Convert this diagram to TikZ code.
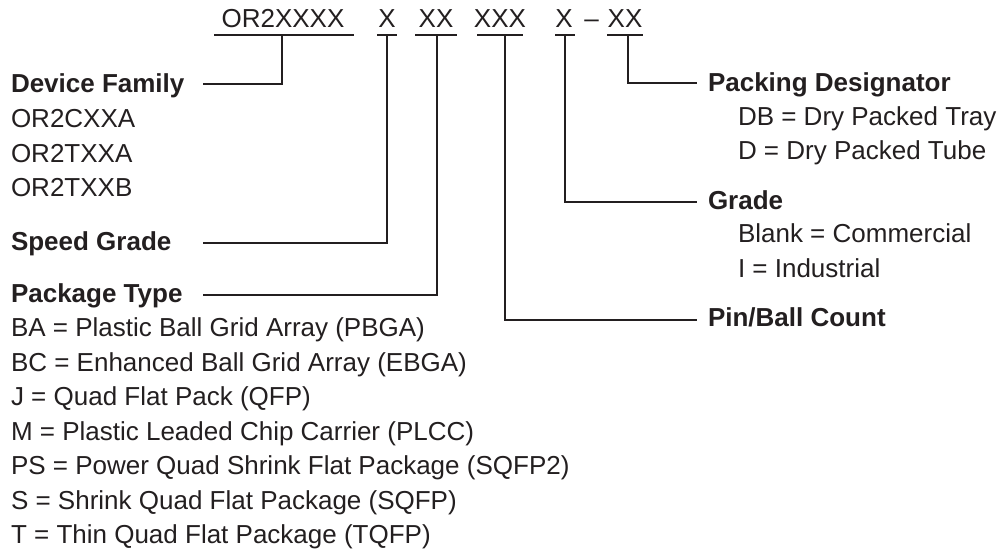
\documentclass[tikz,border=0pt]{standalone}
\usepackage{fontspec}
\setmainfont{Liberation Sans}
\definecolor{ink}{HTML}{231F20}
\begin{document}
\begin{tikzpicture}[x=1pt,y=-1pt,
  every node/.style={inner sep=0pt, outer sep=0pt, text=ink, font=\fontsize{26}{30}\selectfont},
  txt/.style={anchor=base west},
  hdr/.style={anchor=base west, font=\fontsize{26}{30}\selectfont\bfseries},
  code/.style={anchor=base},
  lead/.style={draw=ink, line width=1.3pt}]
\useasboundingbox (0,0) rectangle (1008,552);

% top code
\node[code] (cFam)  at (283,27) {OR2XXXX};
\node[code] (cSpd)  at (387,27) {X};
\node[code] (cPkg)  at (436,27) {XX};
\node[code] (cPin)  at (500,27) {XXX};
\node[code] (cGrd)  at (564,27) {X};
\node[code] (cDash) at (591.5,27) {\textendash};
\node[code] (cPck)  at (625,27) {XX};

% underlines
\draw[lead] (214,35) -- (354,35);
\draw[lead] (377,35) -- (397,35);
\draw[lead] (415,35) -- (457,35);
\draw[lead] (477,35) -- (523,35);
\draw[lead] (555,35) -- (575,35);
\draw[lead] (607,35) -- (643,35);

% left labels
\node[hdr] (lFam) at (11,92) {Device Family};
\node[txt] (lFam1) at (11,127) {OR2CXXA};
\node[txt] (lFam2) at (11,162) {OR2TXXA};
\node[txt] (lFam3) at (11,196) {OR2TXXB};
\node[hdr] (lSpd) at (11,250) {Speed Grade};
\node[hdr] (lPkg) at (11,302) {Package Type};
\node[txt] (lPkg1) at (11,336.5) {BA = Plastic Ball Grid Array (PBGA)};
\node[txt] (lPkg2) at (11,371) {BC = Enhanced Ball Grid Array (EBGA)};
\node[txt] (lPkg3) at (11,405.5) {J = Quad Flat Pack (QFP)};
\node[txt] (lPkg4) at (11,440) {M = Plastic Leaded Chip Carrier (PLCC)};
\node[txt] (lPkg5) at (11,474.5) {PS = Power Quad Shrink Flat Package (SQFP2)};
\node[txt] (lPkg6) at (11,509) {S = Shrink Quad Flat Package (SQFP)};
\node[txt] (lPkg7) at (11,543.5) {T = Thin Quad Flat Package (TQFP)};

% right labels
\node[hdr] (lPck) at (708,91) {Packing Designator};
\node[txt] (lPck1) at (738,125) {DB = Dry Packed Tray};
\node[txt] (lPck2) at (738,159) {D = Dry Packed Tube};
\node[hdr] (lGrd) at (708,209) {Grade};
\node[txt] (lGrd1) at (738,242.5) {Blank = Commercial};
\node[txt] (lGrd2) at (738,277) {I = Industrial};
\node[hdr] (lPin) at (708,326) {Pin/Ball Count};

% connector points
\coordinate (tFam) at (282,35);  \coordinate (eFam) at (203,84);
\coordinate (tSpd) at (387,35);  \coordinate (eSpd) at (203,243);
\coordinate (tPkg) at (437,35);  \coordinate (ePkg) at (203,295);
\coordinate (tPin) at (505,35);  \coordinate (ePin) at (697,320);
\coordinate (tGrd) at (565,35);  \coordinate (eGrd) at (697,202);
\coordinate (tPck) at (628,35);  \coordinate (ePck) at (697,83);

\draw[lead] (tFam) |- (eFam);
\draw[lead] (tSpd) |- (eSpd);
\draw[lead] (tPkg) |- (ePkg);
\draw[lead] (tPin) |- (ePin);
\draw[lead] (tGrd) |- (eGrd);
\draw[lead] (tPck) |- (ePck);
\end{tikzpicture}
\end{document}
